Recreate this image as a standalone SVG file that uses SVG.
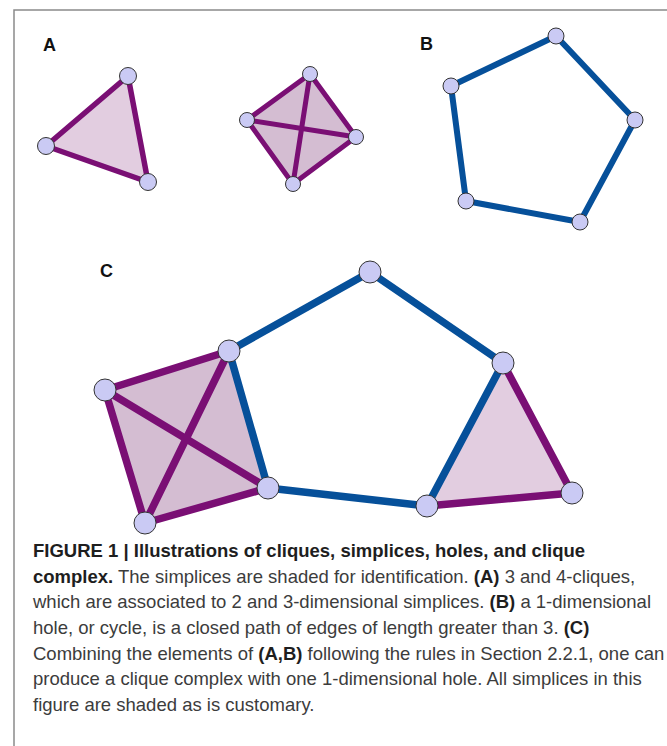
<svg xmlns="http://www.w3.org/2000/svg" width="667" height="746" viewBox="0 0 667 746">
  <style>
    .frame { fill: none; stroke: #8a8a8a; stroke-width: 1.5; }
    .lbl { font-family: "Liberation Sans", Arial, sans-serif; font-weight: bold; font-size: 18px; fill: #111; }
    .pe { stroke: #7a0f74; stroke-linecap: round; fill: none; }
    .be { stroke: #06509a; stroke-linecap: round; fill: none; }
    .tri { fill: #e2cde0; stroke: none; }
    .tet { fill: #d4bdd2; stroke: none; }
    .node { fill: #cacaf4; stroke: #333; stroke-width: 1; }
    .cap { font-family: "Liberation Sans", Arial, sans-serif; font-size: 18.5px; fill: #3c3c3c; }
    .b { font-weight: bold; fill: #1e1e1e; }
  </style>
  <rect width="667" height="746" fill="#fff"/>
  <path class="frame" d="M14,746 V10 H667"/>

  <text class="lbl" x="43" y="51">A</text>
  <text class="lbl" x="420" y="50">B</text>
  <text class="lbl" x="100" y="277">C</text>

  <!-- Shading -->
  <g id="fills">
    <polygon class="tri" points="128,76 46,146 148,182"/>
    <polygon class="tet" points="310,74 356,137 293,184 247,120"/>
    <polygon class="tet" points="105,390 229,351 268,488 145,523"/>
    <polygon class="tri" points="503,363 572,493 427,506"/>
  </g>

  <g id="connectors">
    <g class="pe" stroke-width="5.5">
      <line x1="128" y1="76" x2="46" y2="146"/>
      <line x1="128" y1="76" x2="148" y2="182"/>
      <line x1="46" y1="146" x2="148" y2="182"/>
    </g>
    <g class="pe" stroke-width="5">
      <line x1="310" y1="74" x2="247" y2="120"/>
      <line x1="310" y1="74" x2="356" y2="137"/>
      <line x1="247" y1="120" x2="293" y2="184"/>
      <line x1="356" y1="137" x2="293" y2="184"/>
      <line x1="310" y1="74" x2="293" y2="184"/>
      <line x1="247" y1="120" x2="356" y2="137"/>
    </g>
    <g class="be" stroke-width="6">
      <line x1="556" y1="36" x2="635" y2="120"/>
      <line x1="635" y1="120" x2="580" y2="222"/>
      <line x1="580" y1="222" x2="466" y2="201"/>
      <line x1="466" y1="201" x2="451" y2="86"/>
      <line x1="451" y1="86" x2="556" y2="36"/>
    </g>
    <g class="pe" stroke-width="7.5">
      <line x1="105" y1="390" x2="229" y2="351"/>
      <line x1="105" y1="390" x2="145" y2="523"/>
      <line x1="145" y1="523" x2="268" y2="488"/>
      <line x1="105" y1="390" x2="268" y2="488"/>
      <line x1="229" y1="351" x2="145" y2="523"/>
      <line x1="503" y1="363" x2="572" y2="493"/>
      <line x1="572" y1="493" x2="427" y2="506"/>
    </g>
    <g class="be" stroke-width="7.5">
      <line x1="229" y1="351" x2="268" y2="488"/>
      <line x1="229" y1="351" x2="370" y2="272"/>
      <line x1="370" y1="272" x2="503" y2="363"/>
      <line x1="503" y1="363" x2="427" y2="506"/>
      <line x1="427" y1="506" x2="268" y2="488"/>
    </g>
  </g>

  <g id="nodes">
    <g id="a3-1"><circle class="node" cx="128" cy="76" r="8.5"/></g>
    <g id="a3-2"><circle class="node" cx="46" cy="146" r="8.5"/></g>
    <g id="a3-3"><circle class="node" cx="148" cy="182" r="8.5"/></g>
    <g id="a4-1"><circle class="node" cx="310" cy="74" r="7.5"/></g>
    <g id="a4-2"><circle class="node" cx="247" cy="120" r="7.5"/></g>
    <g id="a4-3"><circle class="node" cx="356" cy="137" r="7.5"/></g>
    <g id="a4-4"><circle class="node" cx="293" cy="184" r="7.5"/></g>
    <g id="b-1"><circle class="node" cx="556" cy="36" r="8"/></g>
    <g id="b-2"><circle class="node" cx="635" cy="120" r="8"/></g>
    <g id="b-3"><circle class="node" cx="580" cy="222" r="8"/></g>
    <g id="b-4"><circle class="node" cx="466" cy="201" r="8"/></g>
    <g id="b-5"><circle class="node" cx="451" cy="86" r="8"/></g>
    <g id="c-1"><circle class="node" cx="105" cy="390" r="11"/></g>
    <g id="c-2"><circle class="node" cx="229" cy="351" r="11"/></g>
    <g id="c-3"><circle class="node" cx="268" cy="488" r="11"/></g>
    <g id="c-4"><circle class="node" cx="145" cy="523" r="11"/></g>
    <g id="c-5"><circle class="node" cx="370" cy="272" r="11"/></g>
    <g id="c-6"><circle class="node" cx="503" cy="363" r="11"/></g>
    <g id="c-7"><circle class="node" cx="572" cy="493" r="11"/></g>
    <g id="c-8"><circle class="node" cx="427" cy="506" r="11"/></g>
  </g>

  <g id="caption" class="cap">
    <text x="33" y="557"><tspan class="b">FIGURE 1 | Illustrations of cliques, simplices, holes, and clique</tspan></text>
    <text x="33" y="582.7"><tspan class="b">complex.</tspan> The simplices are shaded for identification. <tspan class="b">(A)</tspan> 3 and 4-cliques,</text>
    <text x="33" y="608.3">which are associated to 2 and 3-dimensional simplices. <tspan class="b">(B)</tspan> a 1-dimensional</text>
    <text x="33" y="634">hole, or cycle, is a closed path of edges of length greater than 3. <tspan class="b">(C)</tspan></text>
    <text x="33" y="659.7">Combining the elements of <tspan class="b">(A,B)</tspan> following the rules in Section 2.2.1, one can</text>
    <text x="33" y="685.3">produce a clique complex with one 1-dimensional hole. All simplices in this</text>
    <text x="33" y="711">figure are shaded as is customary.</text>
  </g>
</svg>
